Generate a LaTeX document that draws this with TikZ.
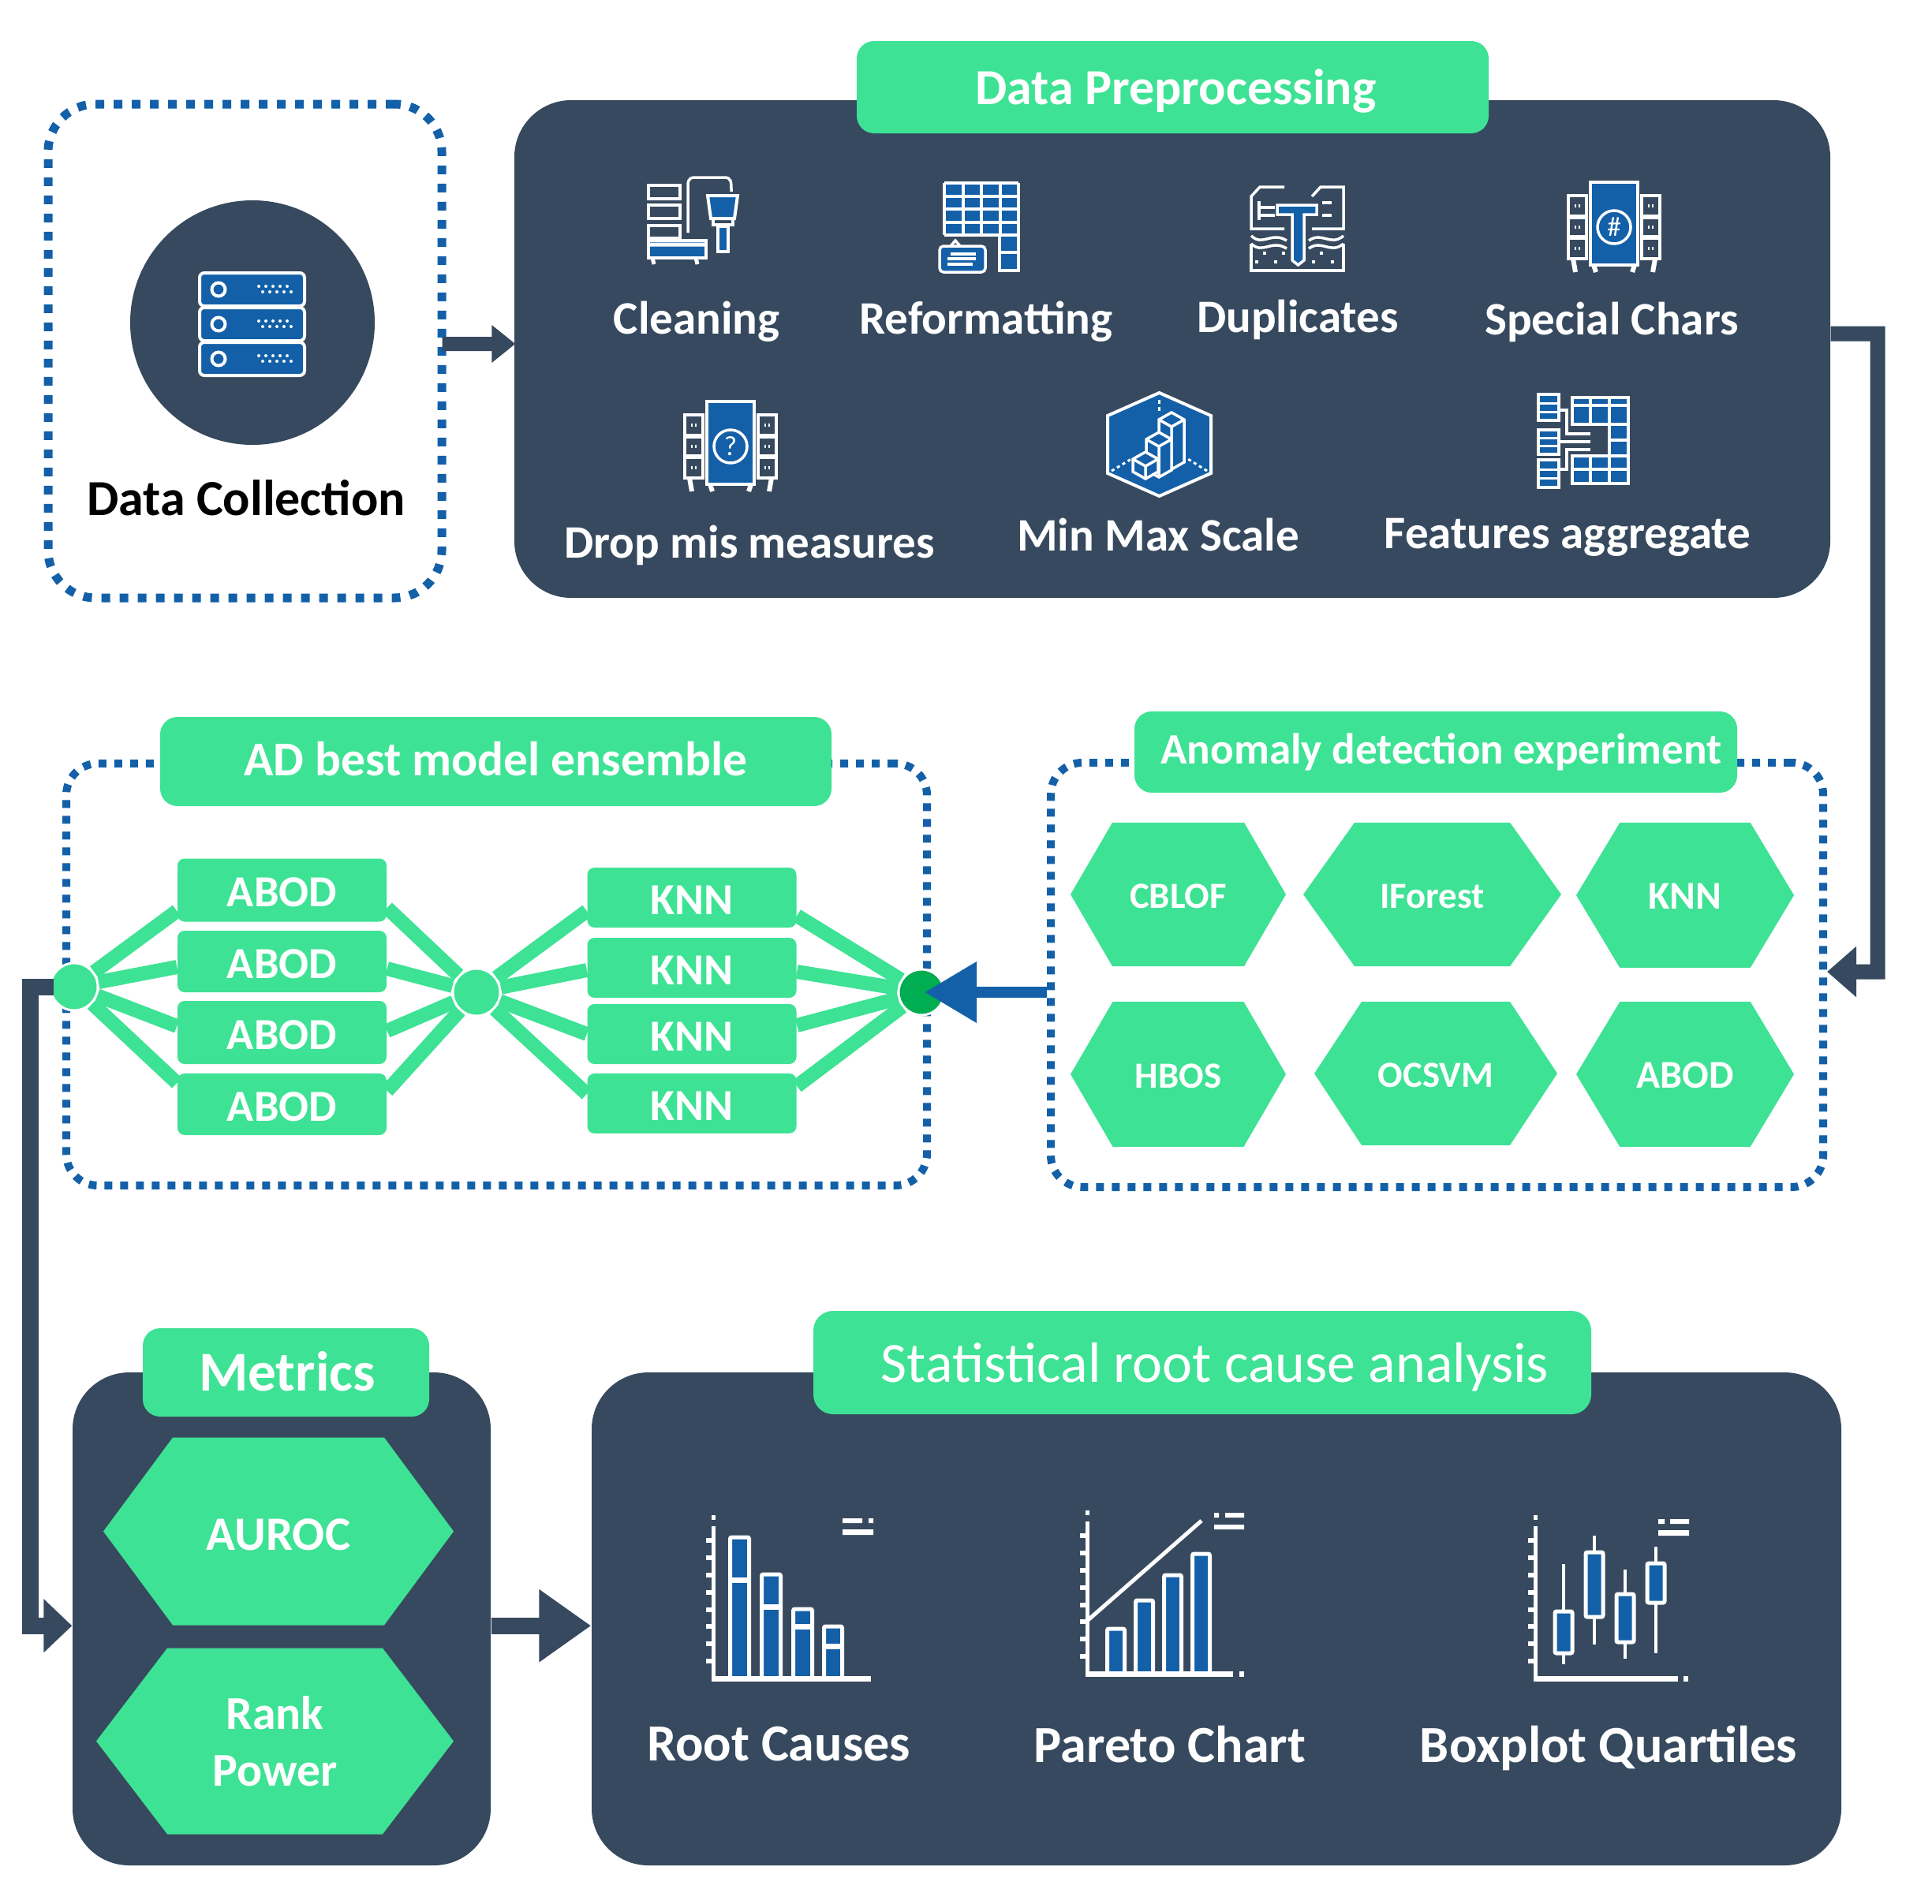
\documentclass[tikz,border=0pt]{standalone}
\usepackage{fontspec}
\setmainfont{Carlito}
\usepackage{xcolor}
\usepackage{tikz}
\usetikzlibrary{arrows.meta,shapes.symbols}
\definecolor{panelslate}{RGB}{54, 73, 94}
\definecolor{tabgreen}{RGB}{62, 226, 149}
\definecolor{iconblue}{RGB}{19, 96, 168}
\definecolor{dotgreen}{RGB}{0, 173, 80}

% cuboid of the min max scale icon: centre x, top y, bottom y
\newcommand{\cuboid}[3]{
    \draw[iconbox, line width=0.035cm] (#1-0.16, #2) -- (#1, #2+0.09) -- (#1+0.16, #2) -- (#1+0.16, #3) -- (#1, #3-0.09) -- (#1-0.16, #3) -- cycle;
    \draw[white, line width=0.035cm] (#1-0.16, #2) -- (#1, #2-0.09) -- (#1+0.16, #2) (#1, #2-0.09) -- (#1, #3-0.09);
}

\begin{document}
\begin{tikzpicture}[
        panel/.style={rectangle, fill=panelslate, rounded corners=0.72cm, inner sep=0pt},
        titletab/.style={rectangle, fill=tabgreen, rounded corners=0.22cm, inner sep=0pt, text=white},
        dotbox/.style={rectangle, draw=iconblue, line width=0.10cm, dash pattern=on 0.10cm off 0.10cm, rounded corners=0.4cm, inner sep=0pt},
        hexnode/.style={signal, signal to=east and west, fill=tabgreen, inner sep=0pt, text=white, text height=9.7pt, text depth=0pt, font=\fontsize{13.3}{16}\selectfont\bfseries},
        modelbox/.style={rectangle, fill=tabgreen, rounded corners=0.09cm, inner sep=0pt, minimum width=2.65cm, text=white, text height=12.2pt, text depth=0pt, font=\fontsize{16}{18}\selectfont\bfseries},
        joint/.style={circle, draw=white, line width=0.03cm, fill=tabgreen, minimum size=0.6cm, inner sep=0pt},
        wire/.style={line width=0.18cm, color=tabgreen},
        darkflow/.style={line width=0.18cm, color=panelslate},
        iconlabel/.style={text=white, inner sep=0pt, font=\fontsize{16.8}{20}\selectfont\bfseries},
        chartlabel/.style={text=white, inner sep=0pt, text depth=0pt, font=\fontsize{18.8}{22}\selectfont\bfseries},
        iconbox/.style={draw=white, line width=0.035cm, fill=iconblue},
        framebox/.style={draw=white, line width=0.04cm, fill=panelslate},
        chartbar/.style={draw=white, line width=0.05cm, fill=iconblue, rounded corners=0.02cm},
        serverrow/.pic={
            \draw[iconbox, line width=0.04cm, rounded corners=0.06cm] (0,0) rectangle (1.33,-0.42);
            \draw[iconbox, line width=0.04cm] (0.24,-0.21) circle (0.085);
            \draw[white, line width=0.04cm, line cap=round, dash pattern=on 0cm off 0.09cm] (0.75,-0.17) -- (1.15,-0.17);
            \draw[white, line width=0.04cm, line cap=round, dash pattern=on 0cm off 0.09cm] (0.80,-0.24) -- (1.20,-0.24);
        },
        rackicon/.pic={
            \draw[iconbox, line width=0.04cm] (0.28,0) rectangle (0.88,-1.05);
            \draw[framebox] (0,-0.17) rectangle (0.23,-0.97);
            \draw[framebox] (0.93,-0.17) rectangle (1.16,-0.97);
            \draw[white, line width=0.06cm] (0,-0.44) -- (0.23,-0.44) (0,-0.70) -- (0.23,-0.70) (0.93,-0.44) -- (1.16,-0.44) (0.93,-0.70) -- (1.16,-0.70);
            \draw[white, line width=0.04cm, dash pattern=on 0.02cm off 0.03cm] (0.08,-0.30) -- (0.17,-0.30) (0.08,-0.57) -- (0.17,-0.57) (0.08,-0.84) -- (0.17,-0.84) (1.01,-0.30) -- (1.10,-0.30) (1.01,-0.57) -- (1.10,-0.57) (1.01,-0.84) -- (1.10,-0.84);
            \draw[white, line width=0.06cm] (0.06,-0.97) -- (0.09,-1.14) (0.32,-1.05) -- (0.35,-1.14) (0.84,-1.05) -- (0.81,-1.14) (1.10,-0.97) -- (1.07,-1.14);
            \draw[white, line width=0.035cm] (0.58,-0.57) circle (0.21);
            \node[white, inner sep=0pt, font=\fontsize{10}{11}\selectfont] at (0.58,-0.57) {\tikzpictext};
        },
        chartaxis/.pic={
            \draw[white, line width=0.05cm] (0,0) -- (0,1.93) (0,2.01) -- (0,2.07);
            \draw[white, line width=0.09cm, dash pattern=on 0.06cm off 0.158cm] (-0.045,0.19) -- (-0.045,1.78);
        }
    ]
    \useasboundingbox (0,0) rectangle (24.49,-24.13);

    % Data Collection
    \node[dotbox, line width=0.11cm, dash pattern=on 0.11cm off 0.12cm, rounded corners=0.6cm, minimum width=4.99cm, minimum height=6.26cm] (collect) at (3.105,-4.45) {};
    \node[circle, fill=panelslate, minimum size=3.10cm] (collect_disc) at (3.20,-4.09) {};
    \pic at (2.53,-3.46) {serverrow};
    \pic at (2.53,-3.90) {serverrow};
    \pic at (2.53,-4.34) {serverrow};
    \node[inner sep=0pt, font=\fontsize{18.2}{22}\selectfont\bfseries] (collect_lbl) at (3.12,-6.31) {Data Collection};

    % Data Preprocessing
    \node[panel, minimum width=16.68cm, minimum height=6.31cm] (prep) at (14.86,-4.425) {};
    \node[titletab, minimum width=8.01cm, minimum height=1.17cm, text depth=0pt, font=\fontsize{18.2}{22}\selectfont\bfseries] (prep_tab) at (14.865,-1.105) {\hspace*{0.08cm}Data Preprocessing};

    \node[iconlabel] (cleaning) at (8.83,-4.08) {Cleaning};
    \node[iconlabel] (reformat) at (12.50,-4.08) {Reformatting};
    \node[iconlabel] (duplicates) at (16.45,-4.05) {Duplicates};
    \node[iconlabel] (specials) at (20.43,-4.08) {Special Chars};
    \node[iconlabel] (dropmis) at (9.50,-6.91) {Drop mis measures};
    \node[iconlabel] (minmax) at (14.68,-6.78) {Min Max Scale};
    \node[iconlabel] (features) at (19.87,-6.81) {Features aggregate};

    % Cleaning icon
    \begin{scope}[shift={(8.22,-2.25)}]
        \draw[framebox] (0,-0.10) rectangle (0.40,-0.27) (0,-0.35) rectangle (0.40,-0.52) (0,-0.61) rectangle (0.40,-0.77);
        \draw[iconbox, line width=0.04cm] (0,-0.80) rectangle (0.73,-1.02);
        \draw[white, line width=0.05cm] (0,-0.85) -- (0.73,-0.85) (0.05,-1.02) -- (0.07,-1.10) (0.60,-1.02) -- (0.62,-1.10);
        \draw[white, line width=0.035cm] (0.50,-0.70) -- (0.50,-0.10) .. controls (0.50,0) and (0.55,0) .. (0.60,0) -- (0.96,0) .. controls (1.05,0) and (1.05,-0.05) .. (1.05,-0.18);
        \draw[iconbox, line width=0.04cm] (0.75,-0.23) -- (1.13,-0.23) -- (1.09,-0.52) -- (0.79,-0.52) -- cycle;
        \draw[iconbox] (0.88,-0.62) rectangle (1.01,-0.94);
        \draw[white, line width=0.04cm] (0.82,-0.52) -- (0.82,-0.60) -- (1.07,-0.60) -- (1.07,-0.52);
    \end{scope}

    % Reformatting icon
    \begin{scope}[shift={(11.97,-2.32)}]
        \fill[iconblue] (0,0) rectangle (0.94,-0.66);
        \draw[white, line width=0.04cm, xstep=0.235, ystep=0.165] (0,0) grid (0.94,-0.66);
        \draw[iconbox] (0.70,-0.66) rectangle (0.94,-1.11);
        \draw[white, line width=0.04cm] (0.70,-0.88) -- (0.94,-0.88);
        \draw[iconbox, rounded corners=0.05cm] (-0.06,-0.80) rectangle (0.52,-1.13);
        \draw[white, line width=0.035cm] (0.08,-0.80) -- (0.14,-0.73) -- (0.20,-0.80);
        \draw[white, line width=0.035cm] (0.08,-0.90) -- (0.40,-0.90) (0.04,-0.96) -- (0.40,-0.96) (0.04,-1.03) -- (0.36,-1.03);
    \end{scope}

    % Duplicates icon
    \begin{scope}[shift={(15.86,-2.37)}]
        \draw[white, line width=0.035cm] (0.42,0) -- (0.11,0) -- (0,-0.12) -- (0,-0.53) -- (0.42,-0.53);
        \draw[white, line width=0.035cm] (0.77,-0.53) -- (1.17,-0.53) -- (1.17,0) -- (0.88,0) -- (0.77,-0.12);
        \draw[white, line width=0.035cm] (0.10,-0.18) -- (0.10,-0.42) (0.10,-0.26) -- (0.30,-0.26) (0.10,-0.36) -- (0.30,-0.36) (0.90,-0.20) -- (1.02,-0.20) (0.90,-0.36) -- (1.02,-0.36);
        \draw[white, line width=0.035cm] (0,-0.62) .. controls (0.15,-0.76) and (0.25,-0.56) .. (0.45,-0.68) (0,-0.72) .. controls (0.15,-0.86) and (0.25,-0.66) .. (0.45,-0.78);
        \draw[white, line width=0.035cm] (0.73,-0.68) .. controls (0.90,-0.56) and (1.00,-0.76) .. (1.17,-0.62) (0.73,-0.78) .. controls (0.90,-0.66) and (1.00,-0.86) .. (1.17,-0.72);
        \draw[white, line width=0.035cm] (0,-0.72) -- (0,-1.06) -- (1.17,-1.06) -- (1.17,-0.72);
        \draw[white, line width=0.04cm, dash pattern=on 0.04cm off 0.20cm] (0.15,-0.84) -- (1.10,-0.84) (0.05,-0.95) -- (1.10,-0.95);
        \draw[iconbox] (0.33,-0.23) -- (0.83,-0.23) -- (0.83,-0.35) -- (0.67,-0.35) -- (0.67,-0.93) -- (0.595,-0.99) -- (0.52,-0.93) -- (0.52,-0.35) -- (0.33,-0.35) -- cycle;
    \end{scope}

    % Rack icons
    \pic[pic text={\#}] at (19.88,-2.31) {rackicon};
    \pic[pic text={?}] at (8.68,-5.09) {rackicon};

    % Min max scale icon
    \begin{scope}[shift={(14.04,-4.98)}]
        \draw[iconbox, line width=0.04cm] (0.655,0) -- (1.31,-0.29) -- (1.31,-1.02) -- (0.655,-1.31) -- (0,-1.02) -- (0,-0.29) -- cycle;
        \draw[white, line width=0.03cm, dash pattern=on 0.05cm off 0.04cm] (0.655,-0.09) -- (0.655,-0.26);
        \draw[white, line width=0.03cm, dash pattern=on 0.04cm off 0.04cm] (0.05,-0.99) -- (0.30,-0.84) (1.26,-0.99) -- (1.02,-0.84);
        \cuboid{0.81}{-0.34}{-0.88}
        \cuboid{0.65}{-0.59}{-0.98}
        \cuboid{0.48}{-0.84}{-1.00}
    \end{scope}

    % Features icon
    \begin{scope}[shift={(19.50,-5.00)}]
        \draw[iconbox, line width=0.04cm] (0,0) rectangle (0.26,-0.33) (0,-0.45) rectangle (0.26,-0.76) (0,-0.83) rectangle (0.26,-1.18);
        \draw[white, line width=0.03cm] (0,-0.11) -- (0.26,-0.11) (0,-0.22) -- (0.26,-0.22) (0,-0.55) -- (0.26,-0.55) (0,-0.65) -- (0.26,-0.65) (0,-0.95) -- (0.26,-0.95) (0,-1.06) -- (0.26,-1.06);
        \fill[iconblue] (0.43,-0.04) rectangle (1.14,-0.38);
        \fill[iconblue] (0.43,-0.78) rectangle (1.14,-1.13);
        \fill[iconblue] (0.90,-0.38) rectangle (1.14,-0.78);
        \draw[white, line width=0.035cm] (0.43,-0.04) rectangle (1.14,-0.38) (0.43,-0.78) rectangle (1.14,-1.13) (0.66,-0.04) -- (0.66,-0.38) (0.90,-0.04) -- (0.90,-1.13) (1.14,-0.38) -- (1.14,-0.78) (0.66,-0.78) -- (0.66,-1.13) (0.43,-0.14) -- (1.14,-0.14) (0.43,-0.95) -- (1.14,-0.95) (0.90,-0.58) -- (1.14,-0.58);
        \draw[white, line width=0.035cm] (0.26,-0.20) -- (0.36,-0.20) -- (0.36,-0.50) -- (0.66,-0.50) (0.26,-0.60) -- (0.66,-0.60) (0.26,-0.95) -- (0.36,-0.95) -- (0.36,-0.70) -- (0.66,-0.70);
    \end{scope}

    % Anomaly detection experiment
    \node[dotbox, minimum width=9.79cm, minimum height=5.38cm] (anomaly) at (18.215,-12.36) {};
    \node[titletab, minimum width=7.64cm, minimum height=1.03cm, font=\fontsize{15.7}{18}\selectfont\bfseries] (anomaly_tab) at (18.20,-9.535) {\hspace*{0.14cm}Anomaly detection experiment};
    \node[hexnode, signal pointer angle=119.6, minimum width=2.73cm, minimum height=1.82cm] (cblof) at (14.935,-11.34) {CBLOF};
    \node[hexnode, signal pointer angle=109, minimum width=3.27cm, minimum height=1.82cm] (iforest) at (18.155,-11.34) {IForest};
    \node[hexnode, signal pointer angle=118, minimum width=2.76cm, minimum height=1.84cm, font=\fontsize{14.2}{16}\selectfont\bfseries] (knn_hex) at (21.36,-11.35) {KNN};
    \node[hexnode, signal pointer angle=119.6, minimum width=2.73cm, minimum height=1.84cm] (hbos) at (14.935,-13.62) {HBOS};
    \node[hexnode, signal pointer angle=113.2, minimum width=3.08cm, minimum height=1.82cm] (ocsvm) at (18.20,-13.61) {OCSVM};
    \node[hexnode, signal pointer angle=118, minimum width=2.76cm, minimum height=1.84cm, font=\fontsize{14.2}{16}\selectfont\bfseries] (abod_hex) at (21.36,-13.62) {ABOD};

    % AD best model ensemble
    \node[dotbox, minimum width=10.91cm, minimum height=5.35cm] (ensemble) at (6.295,-12.355) {};
    \node[titletab, minimum width=8.51cm, minimum height=1.13cm, font=\fontsize{17.5}{21}\selectfont\bfseries] (ensemble_tab) at (6.285,-9.655) {\raisebox{2pt}{AD best model ensemble}};

    \node[joint] (left_dot) at (0.94,-12.51) {};
    \node[joint] (mid_dot) at (6.04,-12.58) {};
    \node[joint, fill=dotgreen, minimum size=0.58cm] (right_dot) at (11.68,-12.58) {};

    \node[modelbox, minimum height=0.80cm] (abod_a) at (3.575,-11.285) {ABOD};
    \node[modelbox, minimum height=0.78cm] (abod_b) at (3.575,-12.19) {ABOD};
    \node[modelbox, minimum height=0.80cm] (abod_c) at (3.575,-13.09) {ABOD};
    \node[modelbox, minimum height=0.78cm] (abod_d) at (3.575,-14.00) {ABOD};
    \node[modelbox, minimum height=0.76cm] (knn_a) at (8.77,-11.38) {KNN};
    \node[modelbox, minimum height=0.76cm] (knn_b) at (8.77,-12.27) {KNN};
    \node[modelbox, minimum height=0.76cm] (knn_c) at (8.77,-13.11) {KNN};
    \node[modelbox, minimum height=0.76cm] (knn_d) at (8.77,-13.99) {KNN};

    % Wires of the ensemble
    \draw[wire] (left_dot) -- ([yshift=-0.265cm]abod_a.west);
    \draw[wire] (left_dot) -- ([yshift=-0.07cm]abod_b.west);
    \draw[wire] (left_dot) -- ([yshift=0.08cm]abod_c.west);
    \draw[wire] (left_dot) -- ([yshift=0.27cm]abod_d.west);
    \draw[wire] ([yshift=-0.225cm]abod_a.east) -- (mid_dot);
    \draw[wire] ([yshift=-0.09cm]abod_b.east) -- (mid_dot);
    \draw[wire] ([yshift=0.02cm]abod_c.east) -- (mid_dot);
    \draw[wire] ([yshift=0.17cm]abod_d.east) -- (mid_dot);
    \draw[wire] (mid_dot) -- ([yshift=-0.17cm]knn_a.west);
    \draw[wire] (mid_dot) -- ([yshift=-0.03cm]knn_b.west);
    \draw[wire] (mid_dot) -- (knn_c.west);
    \draw[wire] (mid_dot) -- ([yshift=0.12cm]knn_d.west);
    \draw[wire] ([yshift=-0.23cm]knn_a.east) -- (right_dot);
    \draw[wire] ([yshift=-0.05cm]knn_b.east) -- (right_dot);
    \draw[wire] ([yshift=0.11cm]knn_c.east) -- (right_dot);
    \draw[wire] ([yshift=0.22cm]knn_d.east) -- (right_dot);

    % Metrics
    \node[panel, minimum width=5.30cm, minimum height=6.25cm] (metrics) at (3.57,-20.525) {};
    \node[titletab, minimum width=3.63cm, minimum height=1.12cm, font=\fontsize{20.3}{24}\selectfont\bfseries] (metrics_tab) at (3.625,-17.40) {\raisebox{1pt}{\hspace*{0.03cm}Metrics}};
    \node[hexnode, signal pointer angle=107, minimum width=4.44cm, minimum height=2.38cm, text height=13.8pt, font=\fontsize{17.3}{20}\selectfont\bfseries] (auroc) at (3.53,-19.415) {AUROC};
    \node[signal, signal to=east and west, fill=tabgreen, inner sep=0pt, text=white, signal pointer angle=105.3, minimum width=4.53cm, minimum height=2.36cm, align=center, font=\fontsize{17}{20.5}\selectfont\bfseries] (rank) at (3.485,-22.075) {Rank\\Power};

    % Statistical root cause analysis
    \node[panel, minimum width=15.84cm, minimum height=6.25cm] (rootcause) at (15.42,-20.525) {};
    \node[titletab, minimum width=9.86cm, minimum height=1.31cm, rounded corners=0.25cm, text depth=0pt, font=\fontsize{20.5}{24}\selectfont] (rootcause_tab) at (15.24,-17.275) {\hspace*{0.32cm}Statistical root cause analysis};

    \node[chartlabel] (rootlbl) at (9.87,-22.11) {Root Causes};
    \node[chartlabel] (paretolbl) at (14.83,-22.11) {Pareto Chart};
    \node[chartlabel] (boxlbl) at (20.39,-22.11) {Boxplot Quartiles};

    % Root causes chart
    \begin{scope}[shift={(9.04,-21.28)}]
        \pic {chartaxis};
        \draw[chartbar] (0.215,0) rectangle (0.455,1.79);
        \draw[chartbar] (0.615,0) rectangle (0.855,1.32);
        \draw[chartbar] (1.015,0) rectangle (1.255,0.88);
        \draw[chartbar] (1.405,0) rectangle (1.635,0.66);
        \draw[white, line width=0.07cm] (0.215,1.25) -- (0.455,1.25) (0.615,0.91) -- (0.855,0.91) (1.015,0.66) -- (1.255,0.66) (1.405,0.41) -- (1.635,0.41);
        \draw[white, line width=0.07cm] (-0.02,0) -- (2.00,0);
        \fill[white] (1.64,2.03) rectangle (1.89,1.97) (1.97,2.03) rectangle (2.03,1.97) (1.64,1.89) rectangle (2.03,1.82);
    \end{scope}

    % Pareto chart
    \begin{scope}[shift={(13.78,-21.22)}]
        \pic {chartaxis};
        \draw[chartbar] (0.255,0) rectangle (0.475,0.57);
        \draw[chartbar] (0.615,0) rectangle (0.835,0.93);
        \draw[chartbar] (0.975,0) rectangle (1.195,1.25);
        \draw[chartbar] (1.335,0) rectangle (1.555,1.52);
        \draw[white, line width=0.05cm] (0,0.67) -- (1.45,1.94);
        \draw[white, line width=0.07cm] (-0.02,0) -- (1.85,0) (1.93,0) -- (1.99,0);
        \fill[white] (1.61,2.04) rectangle (1.67,1.98) (1.75,2.04) rectangle (1.99,1.98) (1.61,1.89) rectangle (1.99,1.83);
    \end{scope}

    % Boxplot chart
    \begin{scope}[shift={(19.46,-21.28)}]
        \pic {chartaxis};
        \draw[white, line width=0.04cm] (0.36,0.18) -- (0.36,1.45) (0.75,0.43) -- (0.75,1.81) (1.14,0.25) -- (1.14,1.38) (1.53,0.32) -- (1.53,1.67);
        \draw[chartbar] (0.25,0.32) rectangle (0.47,0.85);
        \draw[chartbar] (0.64,0.78) rectangle (0.86,1.60);
        \draw[chartbar] (1.03,0.46) rectangle (1.25,1.07);
        \draw[chartbar] (1.42,0.96) rectangle (1.64,1.46);
        \draw[white, line width=0.07cm] (-0.02,0) -- (1.81,0) (1.88,0) -- (1.94,0);
        \fill[white] (1.56,2.02) rectangle (1.64,1.96) (1.71,2.02) rectangle (1.95,1.96) (1.56,1.88) rectangle (1.95,1.81);
    \end{scope}

    % Connectors between the stages
    \coordinate (right_rail) at (23.80,-12.32);
    \coordinate (left_rail) at (0.385,-12.51);
    \draw[darkflow, -{Triangle[length=0.30cm, width=0.46cm]}] ([xshift=-0.05cm, yshift=0.09cm]collect.east) -- ([xshift=0.02cm, yshift=0.065cm]prep.west);
    \draw[darkflow, line width=0.19cm, -{Triangle[length=0.37cm, width=0.62cm]}] ([yshift=0.195cm]prep.east) -| (right_rail) -- ([yshift=0.04cm]anomaly.east);
    \draw[iconblue, line width=0.14cm, -{Triangle[length=0.66cm, width=0.74cm]}] (anomaly.west |- right_dot) -- ([xshift=0.04cm]right_dot.center);
    \draw[darkflow, line width=0.21cm, -{Triangle[length=0.36cm, width=0.66cm]}] ([xshift=-0.26cm]left_dot.center) -- (left_rail) |- (metrics.west |- auroc.south);
    \draw[darkflow, line width=0.21cm, -{Triangle[length=0.66cm, width=0.88cm]}] (metrics.east |- auroc.south) -- (rootcause.west |- auroc.south);
\end{tikzpicture}
\end{document}
